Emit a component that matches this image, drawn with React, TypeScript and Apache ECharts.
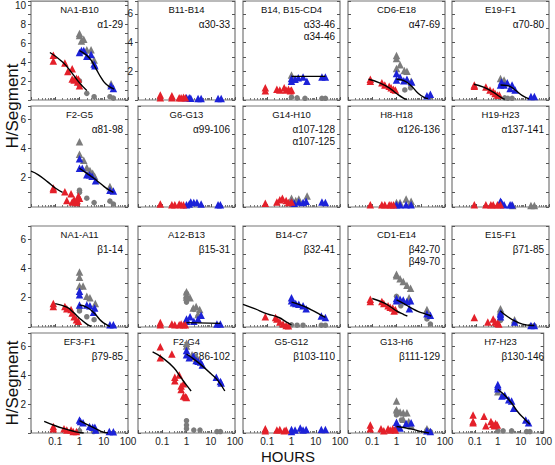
import React, { useEffect, useRef } from "react";
import * as echarts from "echarts";

// ---------- text ----------
const titles = [
  "NA1-B10", "B11-B14", "B14, B15-CD4", "CD6-E18", "E19-F1",
  "F2-G5", "G6-G13", "G14-H10", "H8-H18", "H19-H23",
  "NA1-A11", "A12-B13", "B14-C7", "CD1-E14", "E15-F1",
  "EF3-F1", "F2-G4", "G5-G12", "G13-H6", "H7-H23",
];
const regions = [
  "α1-29", "α30-33", "α33-46\nα34-46", "α47-69", "α70-80",
  "α81-98", "α99-106", "α107-128\nα107-125", "α126-136", "α137-141",
  "β1-14", "β15-31", "β32-41", "β42-70\nβ49-70", "β71-85",
  "β79-85", "β86-102", "β103-110", "β111-129", "β130-146",
];
const yMaxes = [10.4, 6.9, 6.9, 6.9, 6.9, 6.9, 6.9, 6.9, 6.9, 6.9, 6.9, 6.9, 6.9, 6.9, 6.9, 6.9, 6.9, 6.9, 6.9, 6.9];
const yLabelPanels = [0, 1, 5, 10, 15];
const xTickLabels = ["", "0.1", "1", "10", "100"];

// ---------- data (hours, H/segment) ----------
const p01 = {
  red: [[0.083, 4.7], [0.083, 4.1], [0.25, 3.9], [0.33, 3.0], [0.5, 3.3], [0.5, 2.2], [0.6, 2.1], [0.75, 2.3], [0.83, 1.9], [0.9, 2.2], [1, 1.5]],
  blue: [[1, 5.0], [1.2, 5.2], [1.5, 5.2], [2, 4.6], [3, 4.8], [4, 3.8], [4.3, 3.6], [20, 1.5], [25, 1.2]],
  grayTri: [[1, 7.0], [1, 6.8], [1.5, 6.4], [1.2, 6.2], [2, 5.3], [3, 5.3], [4, 4.2], [20, 1.7]],
  grayDot: [[1, 2.0], [1, 1.5], [2, 0.7], [4, 0.35], [18, 0.35], [25, 0.2]],
  redFit: [[0.06, 5.0], [0.2, 4.0], [0.5, 2.8], [1, 1.8], [2, 1.0]],
  blueFit: [[1, 5.2], [2, 4.7], [3, 4.2], [5, 3.2], [8, 2.3], [12, 1.7], [20, 1.3], [27, 1.15]],
};
const p02 = {
  red: [[0.083, 0.35], [0.083, 0.15], [0.25, 0.3], [0.25, 0.15], [0.5, 0.15], [0.6, 0.15], [0.75, 0.2], [0.9, 0.15]],
  blue: [[1, 0.15], [1.3, 0.15], [1.5, 0.12], [3, 0.1], [4, 0.1], [20, 0.1], [27, 0.1]],
  grayTri: [], grayDot: [], redFit: [], blueFit: [],
};
const p03 = {
  red: [[0.083, 0.85], [0.083, 0.65], [0.25, 0.75], [0.33, 0.7], [0.5, 0.85], [0.6, 0.7], [0.75, 0.75], [0.9, 0.65], [1, 0.7]],
  blue: [[1, 1.5], [1, 1.3], [1.4, 1.45], [1.9, 1.55], [3, 1.6], [4.3, 1.3], [18, 1.6], [25, 1.6]],
  grayTri: [[1, 1.75]],
  grayDot: [[1, 0.2], [1.7, 0.15], [3.6, 0.12], [18, 0.12], [25, 0.12]],
  redFit: [],
  blueFit: [[1, 1.65], [25, 1.65]],
};
const p04 = {
  red: [[0.083, 1.45], [0.083, 1.3], [0.25, 1.2], [0.33, 1.05], [0.5, 0.95], [0.6, 0.85], [0.75, 0.75], [0.9, 0.7]],
  blue: [[1, 1.85], [1, 1.4], [1.4, 1.6], [2, 1.35], [2.7, 1.45], [4.2, 1.25], [18, 0.3], [25, 0.4]],
  grayTri: [[1, 3.1], [1, 2.9], [1.4, 2.45], [1, 2.2], [2.1, 2.05], [2.7, 2.0], [4, 1.3]],
  grayDot: [[2.2, 0.7], [3.8, 0.85], [25, 0.2]],
  redFit: [[0.07, 1.45], [0.2, 1.2], [0.5, 0.85], [1, 0.45], [2, 0.12], [2.7, 0.05]],
  blueFit: [[1, 1.45], [2, 1.35], [4, 1.0], [8, 0.45], [15, 0.15], [20, 0.1]],
};
const p05 = {
  red: [[0.083, 1.05], [0.083, 0.95], [0.25, 0.9], [0.37, 0.7], [0.5, 0.6], [0.6, 0.45], [0.75, 0.35], [0.9, 0.35]],
  blue: [[1, 1.05], [1.1, 1.25], [1.4, 1.05], [1.9, 1.2], [2.5, 0.8], [3, 1.05], [4, 0.7], [18, 0.25], [25, 0.25]],
  grayTri: [[1, 1.5], [1.4, 1.4]],
  grayDot: [[1.5, 0.15], [2, 0.12], [3, 0.12]],
  redFit: [[0.08, 1.1], [0.2, 0.9], [0.5, 0.55], [1, 0.2], [1.5, 0.05]],
  blueFit: [[1, 1.05], [2, 1.0], [4, 0.7], [8, 0.3], [15, 0.08]],
};
const p06 = {
  red: [[0.083, 1.3], [0.083, 1.2], [0.25, 1.05], [0.45, 0.9], [0.3, 0.45], [0.5, 0.35], [0.6, 0.5], [0.75, 0.3], [0.9, 0.75], [1, 0.6], [0.8, 0.45]],
  blue: [[1, 3.3], [1, 2.65], [1.3, 2.65], [2, 2.2], [2.6, 2.2], [3.3, 2.1], [4.6, 1.8], [18, 1.15], [25, 1.1]],
  grayTri: [[1, 4.45], [1, 3.6], [1.5, 3.2], [2, 2.7], [2.7, 2.5], [3.5, 2.3], [4.2, 2.1], [18, 1.4]],
  grayDot: [[1, 1.15], [1, 1.0], [2, 0.6], [4, 0.3], [18, 0.4], [25, 0.2]],
  redFit: [[0.01, 2.45], [0.02, 2.2], [0.05, 1.7], [0.1, 1.3], [0.2, 1.0]],
  blueFit: [[1, 2.65], [2, 2.3], [4, 1.95], [8, 1.55], [15, 1.2], [25, 1.0]],
};
const p07 = {
  red: [[0.083, 0.2], [0.25, 0.15], [0.33, 0.15], [0.5, 0.2], [0.6, 0.15], [0.75, 0.15]],
  blue: [[1, 0.15], [1.3, 0.2], [1.5, 0.35], [2, 0.3], [2.7, 0.3], [4, 0.2], [20, 0.15], [25, 0.15]],
  grayTri: [], grayDot: [], redFit: [], blueFit: [],
};
const p08 = {
  red: [[0.083, 0.25], [0.25, 0.35], [0.33, 0.5], [0.42, 0.6], [0.6, 0.45], [0.75, 0.3], [1, 0.35]],
  blue: [[1, 0.35], [1.3, 0.25], [2, 0.35], [3, 0.3], [4, 0.4], [18, 0.35], [25, 0.3]],
  grayTri: [[1, 0.6], [1.5, 0.45], [2, 0.55], [4.4, 0.75]],
  grayDot: [[1, 0.25]],
  redFit: [], blueFit: [],
};
const p09 = {
  red: [[0.083, 0.15], [0.25, 0.15], [0.33, 0.15], [0.5, 0.15], [0.6, 0.15], [0.75, 0.15]],
  blue: [[1, 0.15], [1.4, 0.15], [2.5, 0.15], [4, 0.15]],
  grayTri: [[1, 0.3], [1.4, 0.3], [2.5, 0.55], [4, 0.4]],
  grayDot: [], redFit: [], blueFit: [],
};
const p10 = {
  red: [[0.083, 0.15], [0.25, 0.15], [0.4, 0.15], [0.5, 0.15], [0.75, 0.15], [1, 0.15]],
  blue: [[1, 0.4], [1.1, 0.3], [1.4, 0.15], [2.5, 0.15], [3, 0.15]],
  grayTri: [[3.2, 0.1], [18, 0.1], [25, 0.1]],
  grayDot: [], redFit: [], blueFit: [],
};
const p11 = {
  red: [[0.083, 1.6], [0.083, 1.4], [0.25, 1.4], [0.3, 1.25], [0.45, 1.2], [0.5, 0.95], [0.6, 0.7], [0.75, 0.5], [0.9, 0.4]],
  blue: [[1, 2.45], [1, 2.2], [1, 1.5], [2, 1.5], [2.7, 1.45], [4.2, 1.3], [3.8, 1.0], [18, 0.15], [25, 0.15]],
  grayTri: [[1, 3.75], [1, 3.4], [1, 2.8], [1.4, 2.8], [2, 2.1], [2.7, 2.0], [4.5, 1.6]],
  grayDot: [[1, 1.25], [1, 1.1], [2, 0.7], [4, 0.5]],
  redFit: [[0.1, 1.6], [0.3, 1.35], [0.6, 0.95], [1, 0.6], [2, 0.2], [3, 0.05]],
  blueFit: [[1, 1.5], [2, 1.35], [4, 0.95], [8, 0.4], [15, 0.1], [18, 0.05]],
};
const p12 = {
  red: [[0.083, 0.3], [0.083, 0.15], [0.25, 0.2], [0.33, 0.15], [0.5, 0.15], [0.6, 0.2], [0.75, 0.15], [0.9, 0.15]],
  blue: [[1, 0.55], [1, 0.4], [1.4, 0.7], [2, 0.4], [3, 0.55], [4, 0.8], [18, 0.2], [25, 0.2]],
  grayTri: [[1, 2.4], [1, 2.2], [1, 2.05], [1.4, 2.0], [1.9, 1.3], [2.5, 1.4], [3.5, 1.2], [3, 0.85]],
  grayDot: [[1, 2.3], [1, 1.95], [1, 1.7], [2, 1.2], [3, 0.75]],
  redFit: [],
  blueFit: [[1, 0.3], [25, 0.25]],
};
const p13 = {
  red: [[0.083, 0.7], [0.22, 0.65], [0.25, 0.55], [0.33, 0.35], [0.45, 0.2], [0.6, 0.1], [0.75, 0.08]],
  blue: [[1, 2.0], [1, 1.8], [1.2, 1.65], [1.5, 1.6], [2, 1.55], [3, 1.45], [4, 1.25], [17, 0.75], [25, 0.65]],
  grayTri: [],
  grayDot: [[1, 0.15], [1.7, 0.12], [3, 0.12], [17, 0.12], [25, 0.12]],
  redFit: [[0.01, 1.55], [0.03, 1.25], [0.1, 0.9], [0.3, 0.65], [0.6, 0.35], [1, 0.15]],
  blueFit: [[1, 1.7], [2, 1.55], [4, 1.35], [8, 1.1], [15, 0.85], [25, 0.65]],
};
const p14 = {
  red: [[0.083, 1.9], [0.083, 1.75], [0.25, 1.75], [0.3, 1.6], [0.45, 1.45], [0.55, 1.35], [0.7, 1.3], [0.8, 1.1], [0.9, 1.2]],
  blue: [[1, 1.95], [1, 1.8], [1.4, 1.9], [1.9, 1.85], [2.7, 1.75], [3.8, 1.8], [3.4, 1.25], [18, 0.9], [25, 0.8]],
  grayTri: [[1, 3.6], [1, 3.5], [1.4, 3.3], [1.9, 3.1], [2.7, 2.85], [3.8, 2.65], [3.3, 2.0], [18, 1.2]],
  grayDot: [[1, 2.1], [1.5, 1.45], [18, 0.55], [25, 0.2]],
  redFit: [[0.1, 1.95], [0.3, 1.65], [0.6, 1.35], [1, 1.1], [2, 0.85], [2.8, 0.75]],
  blueFit: [[1, 1.85], [2, 1.6], [4, 1.3], [8, 1.05], [15, 0.9], [27, 0.75]],
};
const p15 = {
  red: [[0.083, 0.65], [0.3, 0.35], [0.5, 0.55], [0.6, 0.35], [0.75, 0.25], [0.85, 0.2]],
  blue: [[1, 0.95], [1, 0.85], [1, 0.7], [3.8, 0.35], [18, 0.1], [25, 0.1]],
  grayTri: [[1, 1.25], [1, 1.1], [3.8, 0.5]],
  grayDot: [[1, 0.45], [4, 0.3], [18, 0.08], [25, 0.08]],
  redFit: [],
  blueFit: [[1, 1.1], [2, 0.7], [4, 0.4], [8, 0.2], [15, 0.12], [25, 0.1]],
};
const p16 = {
  red: [[0.083, 0.45], [0.083, 0.3], [0.23, 0.3], [0.3, 0.2], [0.45, 0.2], [0.55, 0.1], [0.75, 0.1]],
  blue: [[1, 0.9], [1.1, 0.8], [1.4, 0.7], [2.6, 0.45], [3.5, 0.4], [4.3, 0.4], [4.6, 0.2], [17, 0.1], [25, 0.08]],
  grayTri: [[1, 0.2]],
  grayDot: [[1, 0.15], [3.8, 0.1]],
  redFit: [[0.035, 0.8], [0.1, 0.5], [0.3, 0.25], [0.7, 0.08], [1.5, 0.0]],
  blueFit: [[1, 0.85], [2, 0.6], [4, 0.35], [7, 0.15], [10, 0.05], [15, 0.0]],
};
const p17 = {
  red: [[0.083, 5.95], [0.083, 5.2], [0.25, 5.45], [0.33, 3.85], [0.33, 3.6], [0.5, 4.0], [0.6, 3.25], [0.6, 3.0], [0.75, 3.4], [0.75, 2.55], [0.9, 2.5], [1, 2.45]],
  blue: [[1, 5.7], [1, 5.4], [1.3, 5.2], [1.9, 5.3], [2.5, 5.0], [3, 4.95], [3.8, 4.9], [4.5, 4.7], [17, 3.85], [25, 3.55], [27, 3.45]],
  grayTri: [[1, 6.2], [1, 6.0], [1.7, 5.4], [2.5, 5.3]],
  grayDot: [[1, 0.85], [1, 0.55], [1, 0.3], [2, 0.2], [3.6, 0.2], [18, 0.1], [25, 0.1]],
  redFit: [[0.04, 5.6], [0.1, 5.2], [0.3, 4.5], [0.6, 3.8], [1, 3.3], [1.55, 2.9]],
  blueFit: [[1, 5.45], [2, 5.1], [4, 4.7], [10, 4.1], [20, 3.6], [38, 2.9]],
};
const p18 = {
  red: [[0.083, 0.3], [0.083, 0.15], [0.25, 0.2], [0.33, 0.25], [0.5, 0.15], [0.6, 0.2]],
  blue: [[1, 0.25], [1, 0.1], [1.4, 0.2], [2.3, 0.35], [3, 0.2], [4, 0.25], [17, 0.25], [25, 0.25]],
  grayTri: [], grayDot: [], redFit: [], blueFit: [],
};
const p19 = {
  red: [[0.083, 0.55], [0.083, 0.3], [0.23, 0.3], [0.3, 0.15], [0.45, 0.3], [0.55, 0.2], [0.7, 0.3], [0.9, 0.2]],
  blue: [[1, 0.75], [1, 0.45], [1.4, 0.35], [2.5, 0.65], [4, 0.7], [18, 0.15], [25, 0.1]],
  grayTri: [[1, 2.2], [1, 1.6], [1.4, 1.45], [1.9, 1.4], [2.7, 1.4], [1.9, 0.95], [3.2, 0.8], [4, 0.5], [18, 0.3]],
  grayDot: [[1, 1.5], [1, 1.25], [1.6, 0.9], [2.7, 0.6], [18, 0.2], [25, 0.1]],
  redFit: [],
  blueFit: [[1, 0.45], [2, 0.38], [4, 0.28], [8, 0.15], [15, 0.05], [22, 0.0]],
};
const p20 = {
  red: [[0.083, 1.25], [0.083, 0.8], [0.083, 0.7], [0.25, 1.15], [0.3, 0.5], [0.5, 0.8], [0.6, 0.6], [0.7, 0.5], [0.8, 0.65], [0.95, 0.55]],
  blue: [[1, 3.35], [1, 3.2], [1, 3.05], [1.5, 2.55], [2, 2.6], [3, 2.3], [4, 2.2], [4.9, 1.7], [16.5, 0.9], [22, 0.7]],
  grayTri: [[1, 2.85]],
  grayDot: [[1, 0.15], [1.7, 0.15], [4, 0.15], [18, 0.1], [25, 0.1]],
  redFit: [],
  blueFit: [[1, 3.0], [2, 2.6], [4, 2.05], [8, 1.4], [15, 0.95], [25, 0.6]],
};
const panels = [p01, p02, p03, p04, p05, p06, p07, p08, p09, p10, p11, p12, p13, p14, p15, p16, p17, p18, p19, p20];

// ---------- layout / style ----------
const colLefts = [31, 138, 243, 348, 452];
const rowTops = [1, 106, 226, 333];
const rowHeights = [99, 101, 101, 100];
const panelWidth = 97;
const RED = "#e4202a";
const BLUE = "#1c22d8";
const GRAY = "#7c7c7c";
const FONT = "Liberation Sans, Arial, sans-serif";

function buildOption() {
  const grid: any[] = [];
  const xAxis: any[] = [];
  const yAxis: any[] = [];
  const series: any[] = [];
  const graphic: any[] = [];

  panels.forEach((p, i) => {
    const r = Math.floor(i / 5);
    const c = i % 5;
    const left = colLefts[c];
    const top = rowTops[r];
    const h = rowHeights[r];
    grid.push({ left, top, width: panelWidth, height: h, show: true, borderColor: "#777", borderWidth: 1.2, backgroundColor: "#fff" });
    const bottomRow = r === 3;
    xAxis.push({
      type: "log", gridIndex: i, min: 0.01, max: 100, logBase: 10,
      axisLine: { show: false },
      axisTick: { show: true, inside: true, length: 3, lineStyle: { color: "#555" } },
      minorTick: { show: true, splitNumber: 9, length: 2, lineStyle: { color: "#777" } },
      splitLine: { show: false },
      axisLabel: {
        show: bottomRow, fontSize: 10, color: "#222", fontFamily: FONT, margin: 3,
        formatter: (v: number) => xTickLabels[Math.round(Math.log10(v)) + 2] || "",
      },
    });
    const labeled = yLabelPanels.includes(i);
    yAxis.push({
      type: "value", gridIndex: i, min: 0, max: yMaxes[i], interval: 1, position: "left",
      axisLine: { show: false },
      axisTick: { show: true, inside: !labeled, length: 3, lineStyle: { color: "#555" } },
      splitLine: { show: false },
      axisLabel: {
        show: labeled, fontSize: 10, color: "#222", fontFamily: FONT, margin: 5,
        showMaxLabel: true,
        formatter: (v: number) => (v > 0 && Number.isInteger(v) && v % 2 === 0 ? String(v) : ""),
      },
    });
    yAxis.push({
      type: "value", gridIndex: i, min: 0, max: yMaxes[i], interval: 1, position: "right",
      axisLine: { show: false },
      axisTick: { show: true, inside: true, length: 3, lineStyle: { color: "#555" } },
      splitLine: { show: false },
      axisLabel: { show: false },
    });
    const yi = i * 2;
    const scatter = (data: number[][], color: string, symbol: string, size: number) => ({
      type: "scatter", xAxisIndex: i, yAxisIndex: yi, data, symbol, symbolSize: size,
      itemStyle: { color, opacity: 1 }, silent: true, clip: false,
    });
    series.push(scatter(p.grayDot, GRAY, "circle", 5.5));
    series.push(scatter(p.grayTri, GRAY, "triangle", 7.5));
    series.push(scatter(p.blue, BLUE, "triangle", 7.5));
    series.push(scatter(p.red, RED, "triangle", 7.5));
    const line = (data: number[][]) => ({
      type: "line", xAxisIndex: i, yAxisIndex: yi, data, smooth: 0.5, showSymbol: false,
      lineStyle: { color: "#000", width: 1.4 }, silent: true,
    });
    if (p.redFit.length) series.push(line(p.redFit));
    if (p.blueFit.length) series.push(line(p.blueFit));

    graphic.push({
      type: "text", x: left + panelWidth / 2, y: top + 8,
      style: { text: titles[i], fontSize: 9.5, fontFamily: FONT, fill: "#111", align: "center", verticalAlign: "middle" },
    });
    graphic.push({
      type: "text", x: left + panelWidth - 5, y: top + 17,
      style: { text: regions[i], fontSize: 10, lineHeight: 12, fontFamily: FONT, fill: "#111", align: "right", verticalAlign: "top" },
    });
  });

  graphic.push({
    type: "text", x: 12, y: 106, rotation: Math.PI / 2,
    style: { text: "H/Segment", fontSize: 17, fontFamily: FONT, fill: "#111", align: "center", verticalAlign: "middle" },
  });
  graphic.push({
    type: "text", x: 12, y: 383, rotation: Math.PI / 2,
    style: { text: "H/Segment", fontSize: 17, fontFamily: FONT, fill: "#111", align: "center", verticalAlign: "middle" },
  });
  graphic.push({
    type: "text", x: 288, y: 456,
    style: { text: "HOURS", fontSize: 15, fontFamily: FONT, fill: "#111", align: "center", verticalAlign: "middle" },
  });

  return { animation: false, backgroundColor: "#fff", grid, xAxis, yAxis, series, graphic };
}

export default function App() {
  const ref = useRef<HTMLDivElement>(null);
  useEffect(() => {
    if (!ref.current) return;
    const chart = echarts.init(ref.current, undefined, { renderer: "svg" });
    chart.setOption(buildOption() as any);
    return () => chart.dispose();
  }, []);
  return <div ref={ref} style={{ position: "fixed", left: 0, top: 0, width: 555, height: 465, background: "#fff" }} />;
}
